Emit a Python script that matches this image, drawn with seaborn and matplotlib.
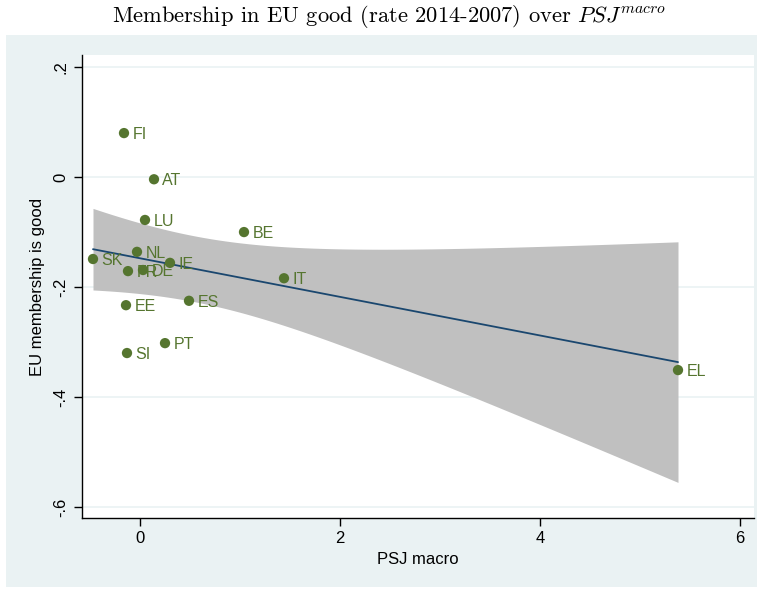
import numpy as np
import pandas as pd
import matplotlib
matplotlib.use('Agg')
import matplotlib.pyplot as plt
import seaborn as sns
from matplotlib.patches import Rectangle

# country data
countries = ['FI', 'AT', 'LU', 'NL', 'BE', 'SK', 'FR', 'DE', 'IE', 'IT', 'EE', 'ES', 'PT', 'SI', 'EL']
psj_macro = [-0.16, 0.14, 0.05, -0.03, 1.04, -0.47, -0.12, 0.03, 0.30, 1.44, -0.14, 0.49, 0.25, -0.13, 5.38]
eu_good = [0.080, -0.004, -0.078, -0.136, -0.100, -0.149, -0.171, -0.169, -0.156, -0.184, -0.233, -0.225, -0.302, -0.320, -0.351]

df = pd.DataFrame({'country': countries, 'psj': psj_macro, 'eu': eu_good})

sns.set_style('white')
plt.rcParams['font.family'] = ['Liberation Sans', 'DejaVu Sans']
plt.rcParams['mathtext.fontset'] = 'cm'
plt.rcParams['text.color'] = 'black'
plt.rcParams['axes.labelcolor'] = 'black'
plt.rcParams['xtick.color'] = 'black'
plt.rcParams['ytick.color'] = 'black'

green = '#55752F'
navy = '#1A476F'
panel = '#EAF2F3'

fig = plt.figure(figsize=(7.63, 5.89), dpi=100)
fig.patch.set_facecolor('white')
W, H = 763, 589
fig.patches.append(Rectangle((6 / W, (H - 587) / H), (757 - 6) / W, (587 - 35) / H,
                             transform=fig.transFigure, facecolor=panel, edgecolor='none', zorder=-1))
ax = fig.add_axes([81.5 / W, (H - 518) / H, (754 - 81.5) / W, (518 - 55) / H])
ax.set_zorder(1)
ax.set_facecolor('white')

# OLS fit with analytic 95% CI (like Stata lfitci)
x = df['psj'].to_numpy()
y = df['eu'].to_numpy()
n = len(x)
b1, b0 = np.polyfit(x, y, 1)
resid = y - (b0 + b1 * x)
s = np.sqrt(np.sum(resid ** 2) / (n - 2))
xg = np.linspace(x.min(), x.max(), 200)
yg = b0 + b1 * xg
se = s * np.sqrt(1 / n + (xg - x.mean()) ** 2 / np.sum((x - x.mean()) ** 2))
t = 2.160  # t(0.975, 13)
ax.fill_between(xg, yg - t * se, yg + t * se, color='#C0C0C0', lw=0, zorder=2)
sns.lineplot(x=xg, y=yg, color=navy, lw=1.3, ax=ax, zorder=3)

sns.scatterplot(data=df, x='psj', y='eu', color=green, s=55, edgecolor='none', ax=ax, zorder=4)
for _, r in df.iterrows():
    ax.annotate(r['country'], (r['psj'], r['eu']), xytext=(6, -1), textcoords='offset points',
                color=green, fontsize=11.5, va='center', ha='left', zorder=5)

ax.set_xlim(-0.585, 6.14)
ax.set_ylim(-0.62, 0.222)
ax.set_xticks([0, 2, 4, 6])
ax.set_xticklabels(['0', '2', '4', '6'])
ax.set_yticks([0.2, 0, -0.2, -0.4, -0.6])
ax.set_yticklabels(['.2', '0', '-.2', '-.4', '-.6'], rotation=90, va='center')
ax.yaxis.grid(True, color=panel, lw=1.2, zorder=0)
ax.set_axisbelow(True)
ax.tick_params(axis='both', direction='out', length=6, width=1, color='black',
               labelsize=12, left=True, bottom=True)
for side in ['top', 'right']:
    ax.spines[side].set_visible(False)
for side in ['left', 'bottom']:
    ax.spines[side].set_color('black')
    ax.spines[side].set_linewidth(1)

ax.set_xlabel('PSJ macro', fontsize=12, labelpad=4)
ax.set_ylabel('EU membership is good', fontsize=12, labelpad=6)

fig.text(389 / W, 1 - 16 / H, r'Membership in EU good (rate 2014-2007) over $PSJ^{macro}$',
         ha='center', va='center', fontsize=16.2, family='cmr10', color='black')

fig.savefig('out.png', dpi=100)
